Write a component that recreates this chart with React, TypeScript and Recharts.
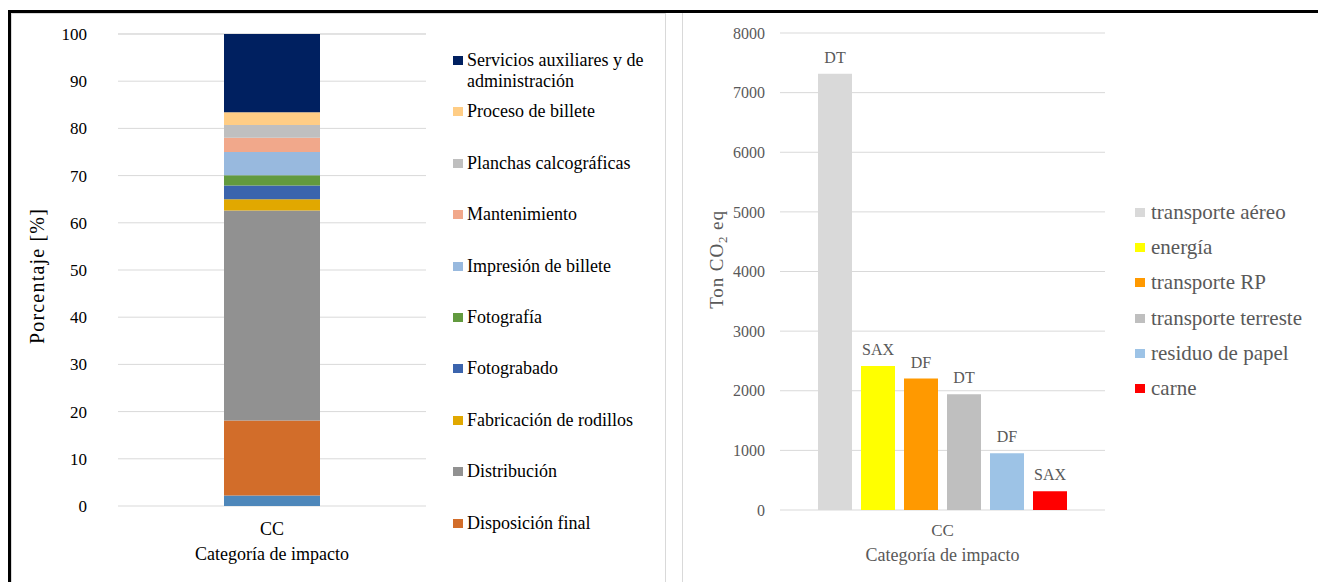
import React from 'react';
import { BarChart, Bar, XAxis, YAxis, CartesianGrid, Legend, Label, LabelList } from 'recharts';

const serif = 'Liberation Serif';

// left panel: share of each process stage (stacked, bottom to top)
const stageCategories = ['CC'];
const stageNames = [
  'Otros',
  'Disposición final',
  'Distribución',
  'Fabricación de rodillos',
  'Fotograbado',
  'Fotografía',
  'Impresión de billete',
  'Mantenimiento',
  'Planchas calcográficas',
  'Proceso de billete',
  'Servicios auxiliares y de administración',
];
const stageValues = [2.2, 15.9, 44.5, 2.4, 2.9, 2.2, 4.9, 3.0, 2.7, 2.7, 16.6];
const stageColors = [
  '#4e87ba', '#d26d2a', '#919191', '#e1a800', '#3b64ad', '#629a3f',
  '#98b9de', '#f1a88b', '#bfbfbf', '#ffcd85', '#002060',
];
const percentTicks = [0, 10, 20, 30, 40, 50, 60, 70, 80, 90, 100];

// right panel: emissions by source
const sourceCategories = ['CC'];
const sourceNames = ['transporte aéreo', 'energía', 'transporte RP', 'transporte terreste', 'residuo de papel', 'carne'];
const sourceValues = [7315, 2415, 2205, 1940, 950, 315];
const sourceTags = ['DT', 'SAX', 'DF', 'DT', 'DF', 'SAX'];
const sourceColors = ['#d9d9d9', '#ffff00', '#ff9900', '#bfbfbf', '#9dc3e6', '#ff0000'];
const tonTicks = [0, 1000, 2000, 3000, 4000, 5000, 6000, 7000, 8000];

const stageData = stageCategories.map((cat) => {
  const row: Record<string, string | number> = { cat };
  stageValues.forEach((v, i) => (row[`s${i}`] = v));
  return row;
});

const sourceData = sourceCategories.map((cat) => {
  const row: Record<string, string | number> = { cat };
  sourceValues.forEach((v, i) => {
    row[`s${i}`] = v;
    row[`t${i}`] = sourceTags[i];
  });
  return row;
});

function StageLegend() {
  const order = stageNames.map((_, i) => i).slice(1).reverse();
  return (
    <div style={{ fontFamily: serif, fontSize: 18, color: '#000' }}>
      {order.map((i) => (
        <div key={i} style={{ height: 51.4, display: 'flex', alignItems: 'flex-start' }}>
          <span style={{ width: 10, height: 9, marginTop: 6, marginRight: 4, background: stageColors[i], flex: 'none' }} />
          <span style={{ lineHeight: '21px', width: 190 }}>{stageNames[i]}</span>
        </div>
      ))}
    </div>
  );
}

function SourceLegend() {
  return (
    <div style={{ fontFamily: serif, fontSize: 21, color: '#595959' }}>
      {sourceNames.map((n, i) => (
        <div key={n} style={{ height: 35.2, display: 'flex', alignItems: 'center', whiteSpace: 'nowrap' }}>
          <span style={{ width: 10, height: 9, marginRight: 6, background: sourceColors[i], flex: 'none' }} />
          <span>{n}</span>
        </div>
      ))}
    </div>
  );
}

function yTitle(dx: number, dy: number, fill: string, sub: boolean) {
  return (props: any) => {
    const vb = props.viewBox;
    const x = vb.x + dx;
    const y = vb.y + vb.height / 2 + dy;
    return (
      <text x={x} y={y} transform={`rotate(-90 ${x} ${y})`} textAnchor="middle" fill={fill}
        fontSize={sub ? 19 : 20} letterSpacing={sub ? 0.9 : 1.2} fontFamily={serif}>
        {sub ? (
          <>
            Ton CO<tspan fontSize={13} dy={4}>2</tspan><tspan dy={-4}> eq</tspan>
          </>
        ) : (
          'Porcentaje [%]'
        )}
      </text>
    );
  };
}

export default function App() {
  return (
    <div style={{ position: 'absolute', left: 0, top: 0, width: 1318, height: 582, background: '#fff', overflow: 'hidden', fontFamily: serif }}>
      <div style={{ position: 'absolute', left: 8, top: 10, right: 0, bottom: -10, borderTop: '3px solid #000', borderLeft: '3px solid #000' }} />
      <div style={{ position: 'absolute', left: 11, top: 13, width: 653, height: 580, borderLeft: '1px solid #d9d9d9', borderTop: '1px solid #d9d9d9', borderRight: '1px solid #d9d9d9' }} />
      <div style={{ position: 'absolute', left: 682, top: 13, width: 640, height: 580, borderLeft: '1px solid #d9d9d9' }} />

      <div style={{ position: 'absolute', left: 11, top: 13 }}>
        <BarChart width={654} height={569} data={stageData} margin={{ top: 21, right: 239, bottom: 6, left: 0 }} barSize={96}
          style={{ fontFamily: serif }}>
          <CartesianGrid vertical={false} stroke="#d9d9d9" />
          <XAxis dataKey="cat" axisLine={false} tickLine={false} height={70} tickMargin={10}
            tick={{ fill: '#000', fontSize: 18, fontFamily: serif }}>
            <Label value="Categoría de impacto" position="insideBottom" offset={16} fill="#000" fontSize={18} fontFamily={serif} />
          </XAxis>
          <YAxis domain={[0, 100]} ticks={percentTicks} axisLine={false} tickLine={false} width={107} tickMargin={25}
            tick={{ fill: '#000', fontSize: 17, fontFamily: serif }}>
            <Label content={yTitle(33, 6, '#000', false)} />
          </YAxis>
          {stageNames.map((n, i) => (
            <Bar key={n} dataKey={`s${i}`} name={n} stackId="a" fill={stageColors[i]} isAnimationActive={false} />
          ))}
          <Legend layout="vertical" align="center" verticalAlign="middle" wrapperStyle={{ left: 442, top: 37, width: 210 }}
            content={() => <StageLegend />} />
        </BarChart>
      </div>

      <div style={{ position: 'absolute', left: 683, top: 13 }}>
        <BarChart width={635} height={569} data={sourceData} margin={{ top: 20, right: 213, bottom: 6, left: 0 }}
          barSize={34} barGap={9} style={{ fontFamily: serif }}>
          <CartesianGrid vertical={false} stroke="#d9d9d9" />
          <XAxis dataKey="cat" axisLine={false} tickLine={false} height={66} tickMargin={8}
            tick={{ fill: '#595959', fontSize: 17, fontFamily: serif }}>
            <Label value="Categoría de impacto" position="insideBottom" offset={15} fill="#595959" fontSize={18} fontFamily={serif} />
          </XAxis>
          <YAxis domain={[0, 8000]} ticks={tonTicks} axisLine={false} tickLine={false} width={97} tickMargin={9}
            tick={{ fill: '#595959', fontSize: 16, fontFamily: serif }}>
            <Label content={yTitle(40, -12, '#595959', true)} />
          </YAxis>
          {sourceNames.map((n, i) => (
            <Bar key={n} dataKey={`s${i}`} name={n} fill={sourceColors[i]} isAnimationActive={false}>
              <LabelList dataKey={`t${i}`} position="top" offset={11} fill="#595959" fontSize={16} fontFamily={serif} />
            </Bar>
          ))}
          <Legend layout="vertical" align="center" verticalAlign="middle" wrapperStyle={{ left: 452, top: 182, width: 190 }}
            content={() => <SourceLegend />} />
        </BarChart>
      </div>
    </div>
  );
}
